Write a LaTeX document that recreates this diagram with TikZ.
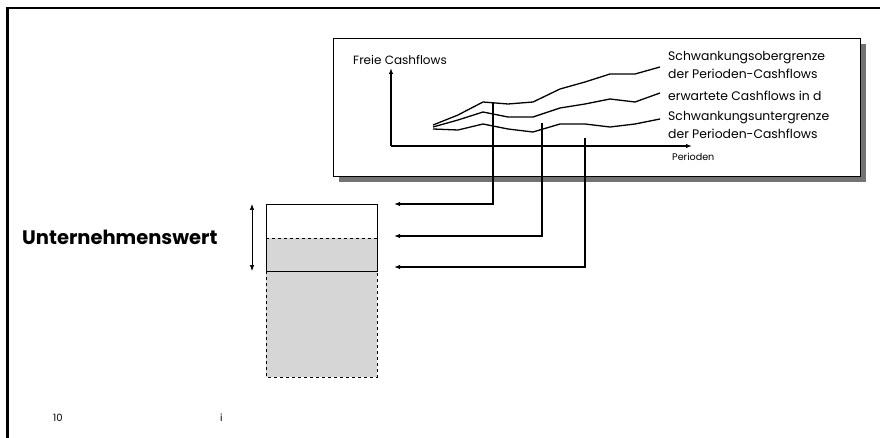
\documentclass[tikz,border=0pt]{standalone}
\usepackage{fontspec}
\setmainfont{Poppins}
\usetikzlibrary{arrows.meta}

\tikzset{
  lbl/.style={anchor=west, inner sep=0pt, font=\fontsize{12.4}{14}\selectfont},
  feed/.style={-{Latex[length=6pt,width=4.5pt]}, line width=1.2pt},
  curve/.style={line width=1.3pt, line join=round},
}

\begin{document}
\begin{tikzpicture}[x=1pt,y=-1pt]
  \useasboundingbox (0,0) rectangle (880,438);
  % page frame (cut off at right and bottom)
  \draw[line width=2pt] (6,8) -- (880,8);
  \draw[line width=3pt] (7,7) -- (7,438);

  % chart panel with its shadow
  \fill[black!55] (339,44) rectangle (866,182);
  \draw[fill=white, line width=0.8pt] (333,38) rectangle (860,176);

  % axes
  \coordinate (o) at (391,146);
  \coordinate (ytip) at (391,68);
  \coordinate (xtip) at (692,146);
  \draw[feed] (o) -- (ytip);
  \draw[feed] (o) -- (xtip);
  \node[lbl, font=\fontsize{12}{14}\selectfont] (ylab) at (353,60) {Freie Cashflows};
  \node[lbl, font=\fontsize{9.6}{11}\selectfont] (xlab) at (672,157) {Perioden};

  % upper bound, expected and lower bound of the cashflows
  \draw[curve] (433,125) -- (458,115) -- (483,102) -- (508,104) -- (533,102)
    -- (560,89) -- (585,82) -- (610,74) -- (635,74) -- (660,67);
  \draw[curve] (433,127) -- (458,120) -- (483,112) -- (508,117) -- (533,117)
    -- (560,108) -- (585,104) -- (610,99) -- (635,102) -- (660,93);
  \draw[curve] (433,129) -- (458,130) -- (483,124) -- (508,129) -- (533,132)
    -- (560,124) -- (585,124) -- (610,127) -- (635,124) -- (660,119);

  \node[lbl] (ob1) at (668,58) {Schwankungsobergrenze};
  \node[lbl] (ob2) at (668,74) {der Perioden-Cashflows};
  \node[lbl] (ew)  at (668,96) {erwartete Cashflows in d};
  \node[lbl] (un1) at (668,118) {Schwankungsuntergrenze};
  \node[lbl] (un2) at (668,134) {der Perioden-Cashflows};

  % value bar
  \fill[black!16] (266,238) rectangle (377,377);
  \draw[line width=0.7pt] (266,204) rectangle (377,271);
  \draw[dashed, line width=0.7pt] (266,238) -- (377,238);
  \draw[dashed, line width=0.7pt] (266,271) -- (266,377) -- (377,377) -- (377,271);
  \coordinate (vtop) at (252,204);
  \coordinate (vbot) at (252,271);
  \draw[{Latex[length=6pt,width=4.5pt]}-{Latex[length=6pt,width=4.5pt]}, line width=0.7pt] (vtop) -- (vbot);
  \node[lbl, font=\bfseries\fontsize{19.5}{22}\selectfont] (uw) at (22,237) {Unternehmenswert};

  % feeds from the cashflow paths into the bar
  \coordinate (p1) at (493,103);
  \coordinate (p2) at (542,123);
  \coordinate (p3) at (585,138);
  \coordinate (a1) at (394,204);
  \coordinate (a2) at (394,236);
  \coordinate (a3) at (394,267);
  \draw[feed] (p1) |- (a1);
  \draw[feed] (p2) |- (a2);
  \draw[feed] (p3) |- (a3);

  \node[lbl, font=\fontsize{10}{12}\selectfont] (pg) at (53,418) {10};
  \node[lbl, font=\fontsize{10}{12}\selectfont] (ii) at (220,418) {i};
\end{tikzpicture}
\end{document}
